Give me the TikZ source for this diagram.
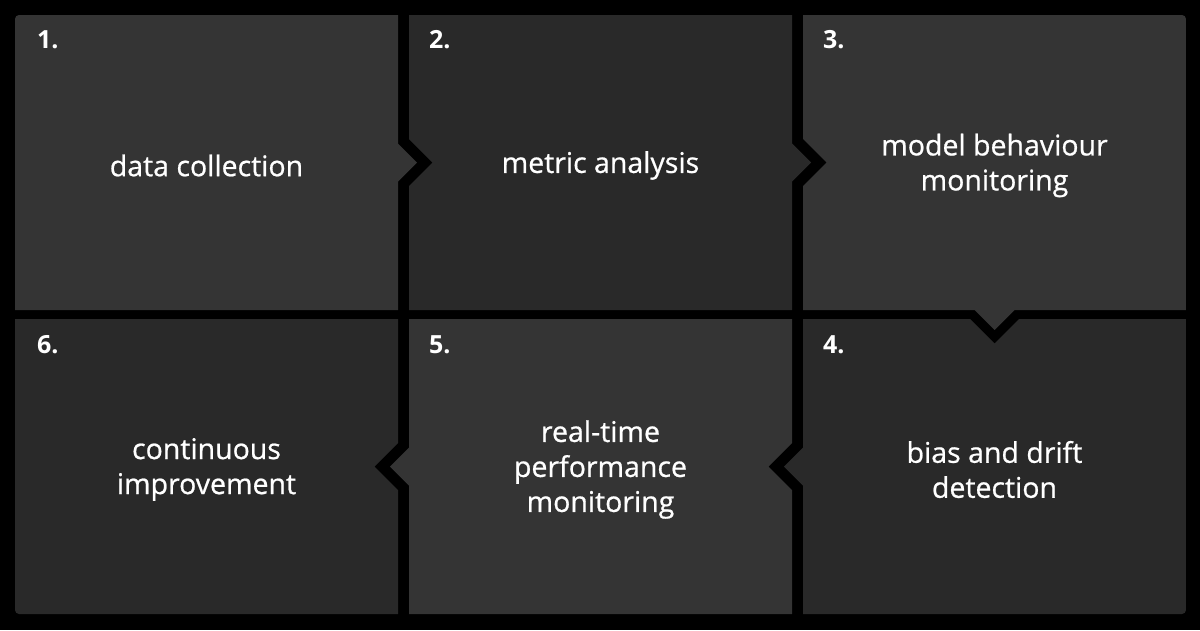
\documentclass[tikz,border=0pt]{standalone}
\usepackage{fontspec}
\setmainfont{Open Sans}
\newfontfamily\stagefont{Open Sans}[FakeBold=0.7]
\usepackage{tikz}

\begin{document}
\begin{tikzpicture}[
    x=1pt, y=-1pt,
    light/.style={fill={rgb,255:red,52;green,52;blue,52}},
    dark/.style={fill={rgb,255:red,41;green,41;blue,41}},
    stage/.style={text=white, align=center, yshift=-3pt, font=\stagefont\fontsize{28.5}{35}\selectfont},
    num/.style={text=white, anchor=base west, inner sep=0pt, font=\fontsize{25}{25}\selectfont\bfseries}
]
    \fill[black] (0,0) rectangle (1200,630);
    \begin{scope}
    \clip[rounded corners=4pt] (15,15) rectangle (1186,614);
    % Panels, top row
    \fill[light] (15,15) -- (398,15) -- (398,143.5) -- (417,162.5) -- (398,181.5) -- (398,310) -- (15,310) -- cycle;
    \fill[dark] (409,15) -- (792,15) -- (792,143.5) -- (811,162.5) -- (792,181.5) -- (792,310) -- (409,310)
        -- (409,186) -- (432.5,162.5) -- (409,139) -- cycle;
    \fill[light] (803,15) -- (1186,15) -- (1186,310) -- (1014.5,310) -- (994.5,330) -- (974.5,310) -- (803,310)
        -- (803,186) -- (826.5,162.5) -- (803,139) -- cycle;
    % Panels, bottom row
    \fill[dark] (803,319) -- (970,319) -- (994.5,343.5) -- (1019,319) -- (1186,319) -- (1186,614) -- (803,614)
        -- (803,485.5) -- (784,466.5) -- (803,447.5) -- cycle;
    \fill[light] (409,319) -- (792,319) -- (792,443) -- (768.5,466.5) -- (792,490) -- (792,614) -- (409,614)
        -- (409,485.5) -- (390,466.5) -- (409,447.5) -- cycle;
    \fill[dark] (15,319) -- (398,319) -- (398,443) -- (374.5,466.5) -- (398,490) -- (398,614) -- (15,614) -- cycle;
    \end{scope}

    % Nodes
    \node[num] (n1) at (37,48) {1.};
    \node[num] (n2) at (429,48) {2.};
    \node[num] (n3) at (823,48) {3.};
    \node[num] (n4) at (823,353) {4.};
    \node[num] (n5) at (429,353) {5.};
    \node[num] (n6) at (37,353) {6.};

    \node[stage] (s1) at (206.5,162.5) {data collection};
    \node[stage] (s2) at (600.5,162.5) {metric analysis};
    \node[stage] (s3) at (994.5,162.5) {model behaviour\\monitoring};
    \node[stage] (s4) at (994.5,466.5) {bias and drift\\detection};
    \node[stage] (s5) at (600.5,466.5) {real-time\\performance\\monitoring};
    \node[stage] (s6) at (206.5,466.5) {continuous\\improvement};
\end{tikzpicture}
\end{document}
